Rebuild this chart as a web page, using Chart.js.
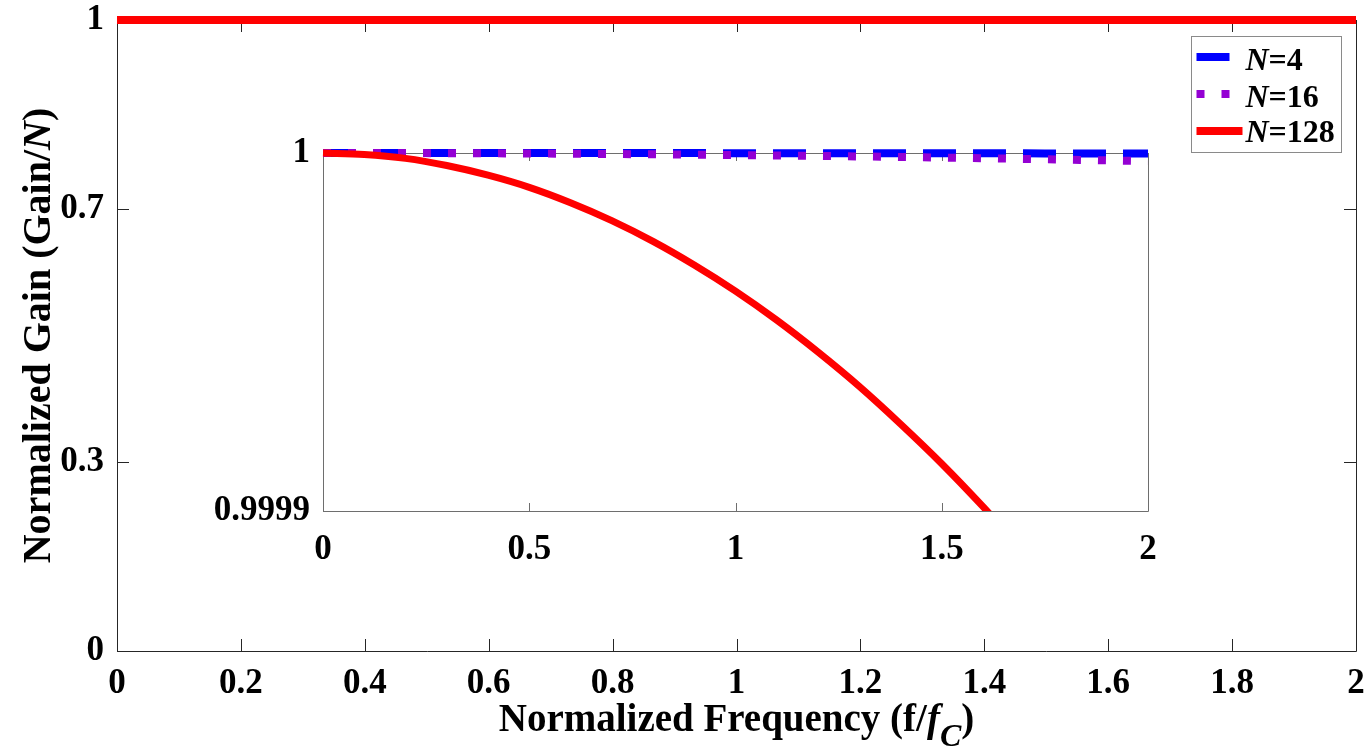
<!DOCTYPE html>
<html><head><meta charset="utf-8">
<script src="https://cdn.jsdelivr.net/npm/chart.js@4.4.1/dist/chart.umd.min.js"></script>
<style>
html,body{margin:0;padding:0;background:#fff;}
#wrap{position:relative;width:1364px;height:752px;overflow:hidden;}
#main{position:absolute;left:0;top:0;}
#inset{position:absolute;left:200px;top:130px;}
</style></head><body>
<div id="wrap"><canvas id="main" width="1364" height="752"></canvas><canvas id="inset" width="970" height="440"></canvas></div>
<script>
// ---------- data ----------
const freq = [0,0.1,0.2,0.3,0.4,0.5,0.6,0.7,0.8,0.9,1.0,1.1,1.2,1.3,1.4,1.5,1.6,1.7,1.8,1.9,2.0];
const gainN4 = [1,1,1,1,0.99999999,0.99999999,0.99999999,0.99999998,0.99999998,0.99999997,0.99999996,0.99999996,0.99999995,0.99999994,0.99999993,0.99999992,0.99999991,0.9999999,0.99999988,0.99999987,0.99999986];
const gainN16 = [1,0.999999994,0.99999998,0.99999995,0.99999991,0.99999986,0.99999979,0.99999972,0.99999964,0.99999954,0.99999943,0.99999931,0.99999918,0.99999904,0.99999888,0.99999872,0.99999854,0.99999835,0.99999815,0.99999794,0.99999772];
const gainN128 = [1,0.9999996,0.9999985,0.9999965,0.9999938,0.9999904,0.9999861,0.9999811,0.9999753,0.9999687,0.9999614,0.9999533,0.9999444,0.9999348,0.9999243,0.9999132,0.9999012,0.9998885,0.999875,0.9998607,0.9998456];
const seriesLabels = ['4','16','128'];
const mainXTicks = [0,0.2,0.4,0.6,0.8,1,1.2,1.4,1.6,1.8,2];
const mainXTickLabels = ['0','0.2','0.4','0.6','0.8','1','1.2','1.4','1.6','1.8','2'];
const mainYTicks = [0,0.3,0.7,1];
const mainYTickLabels = ['0','0.3','0.7','1'];
const insetXTicks = [0,0.5,1,1.5,2];
const insetXTickLabels = ['0','0.5','1','1.5','2'];
const insetYTicks = [0.9999,1];
const insetYTickLabels = ['0.9999','1'];

// ---------- helpers ----------
const FAM = "'Liberation Serif','Times New Roman',serif";
const tickFont = {family: FAM, size: 35, weight: 'bold', lineHeight: 1.2};
function pts(ys){ return freq.map((f,i)=>({x:f, y:ys[i]})); }
function makeDatasets(){
  return [
    {label: seriesLabels[0], data: pts(gainN4), borderColor:'#0000ff', borderWidth:8, borderDash:[33,17], order:2},
    {label: seriesLabels[1], data: pts(gainN16), borderColor:'#9400d3', borderWidth:8, borderDash:[8,17], order:1},
    {label: seriesLabels[2], data: pts(gainN128), borderColor:'#ff0000', borderWidth:7, borderDash:[], order:0}
  ].map(d=>Object.assign(d,{pointRadius:0, fill:false, cubicInterpolationMode:'monotone', borderCapStyle:'butt'}));
}
function fontStr(p, size){ return (p.it?'italic ':'')+'bold '+size+'px '+FAM; }
function drawRich(ctx, parts, x, y, size, subSize, subDy){
  const ws = parts.map(p=>{ctx.font = fontStr(p, p.sub?subSize:size); return ctx.measureText(p.t).width;});
  const total = ws.reduce((a,b)=>a+b,0);
  let cx = x - total/2;
  ctx.textAlign = 'left'; ctx.textBaseline = 'alphabetic';
  parts.forEach((p,i)=>{ ctx.font = fontStr(p, p.sub?subSize:size); ctx.fillText(p.t, cx, y + (p.sub?subDy:0)); cx += ws[i]; });
}

const framePlugin = {
  id: 'frame',
  beforeDraw(chart){
    const {ctx, chartArea:a} = chart;
    ctx.save(); ctx.fillStyle = '#fff'; ctx.fillRect(a.left, a.top, a.width, a.height); ctx.restore();
  },
  beforeDatasetsDraw(chart, args, opts){
    const {ctx, chartArea:a, scales:{x, y}} = chart;
    ctx.save();
    ctx.strokeStyle = opts.color; ctx.lineWidth = 1;
    ctx.beginPath();
    const L = opts.len;
    x.ticks.forEach(t=>{ const px = Math.round(x.getPixelForValue(t.value))+0.5;
      ctx.moveTo(px, a.bottom); ctx.lineTo(px, a.bottom-L); ctx.moveTo(px, a.top); ctx.lineTo(px, a.top+L); });
    y.ticks.forEach(t=>{ const py = Math.round(y.getPixelForValue(t.value))+0.5;
      ctx.moveTo(a.left, py); ctx.lineTo(a.left+L, py); ctx.moveTo(a.right, py); ctx.lineTo(a.right-L, py); });
    ctx.rect(Math.round(a.left)+0.5, Math.round(a.top)+0.5, Math.round(a.width), Math.round(a.height));
    ctx.stroke();
    ctx.restore();
  }
};

const titlePlugin = {
  id: 'richTitles',
  afterDraw(chart){
    const {ctx, chartArea:a} = chart;
    ctx.save(); ctx.fillStyle = '#000';
    drawRich(ctx, [{t:'Normalized Frequency (f/'},{t:'f',it:true},{t:'C',it:true,sub:true},{t:')'}], (a.left+a.right)/2, 731, 39, 32, 15);
    ctx.translate(50, (a.top+a.bottom)/2); ctx.rotate(-Math.PI/2);
    drawRich(ctx, [{t:'Normalized Gain (Gain/'},{t:'N',it:true},{t:')'}], 0, 0, 40, 32, 0);
    ctx.restore();
  }
};

const legendPlugin = {
  id: 'richLegend',
  afterDatasetsDraw(chart){
    const {ctx, chartArea:a} = chart;
    const bx = Math.round(a.right) - 164.5, by = Math.round(a.top) + 16.5, bw = 150, bh = 116;
    ctx.save();
    ctx.fillStyle = '#fff'; ctx.fillRect(bx, by, bw, bh);
    ctx.strokeStyle = '#8a8a8a'; ctx.lineWidth = 1; ctx.strokeRect(bx, by, bw, bh);
    const ds = chart.data.datasets;
    const lineY = [57, 94, 131], textY = [70, 107, 142];
    ds.forEach((d,i)=>{
      ctx.beginPath();
      ctx.strokeStyle = d.borderColor; ctx.lineWidth = d.borderWidth; ctx.lineCap = 'butt';
      ctx.setLineDash(d.borderDash || []);
      ctx.moveTo(bx+5, lineY[i]); ctx.lineTo(bx+51, lineY[i]); ctx.stroke();
      ctx.setLineDash([]);
      ctx.fillStyle = '#000';
      const parts = [{t:'N',it:true},{t:'='+d.label}];
      let cx = bx + 54;
      ctx.textAlign = 'left'; ctx.textBaseline = 'alphabetic';
      parts.forEach(p=>{ ctx.font = fontStr(p, 32); ctx.fillText(p.t, cx, textY[i]); cx += ctx.measureText(p.t).width; });
    });
    ctx.restore();
  }
};

function axisOpts(ticksArr, labelsArr, min, max, pad, fitFn){
  return {
    type:'linear', min, max,
    afterBuildTicks: s => { s.ticks = ticksArr.map(v=>({value:v})); },
    ticks:{ font: tickFont, color:'#000', padding: pad, maxRotation:0, autoSkip:false,
      callback: (v) => { const k = ticksArr.findIndex(t=>Math.abs(t-v)<1e-12); return k>=0 ? labelsArr[k] : ''; } },
    grid:{ display:false, drawTicks:false },
    border:{ display:false },
    afterFit: s => { fitFn(s); s.paddingTop = 0; s.paddingBottom = 0; s.paddingLeft = 0; s.paddingRight = 0; }
  };
}

Chart.defaults.font.family = FAM;

new Chart(document.getElementById('main'), {
  type:'line',
  data:{ datasets: makeDatasets().map(d=>Object.assign(d,{clip:false, borderWidth: d.order===0?8:d.borderWidth})) },
  options:{
    responsive:false, animation:false, devicePixelRatio:1,
    layout:{ padding:{ top:20, right:8, left:0, bottom:0 } },
    plugins:{ legend:{display:false}, tooltip:{enabled:false}, frame:{color:'#262626', len:12} },
    scales:{
      x: axisOpts(mainXTicks, mainXTickLabels, 0, 2, 12, s=>{ s.height = 101; }),
      y: axisOpts(mainYTicks, mainYTickLabels, 0, 1, 13, s=>{ s.width = 117; })
    }
  },
  plugins:[framePlugin, legendPlugin, titlePlugin]
});

new Chart(document.getElementById('inset'), {
  type:'line',
  data:{ datasets: makeDatasets().map(d=>Object.assign(d,{clip:{left:4, top:10, right:4, bottom:0}})) },
  options:{
    responsive:false, animation:false, devicePixelRatio:1,
    layout:{ padding:{ top:23, right:22, left:0, bottom:0 } },
    plugins:{ legend:{display:false}, tooltip:{enabled:false}, frame:{color:'#6e6e6e', len:8} },
    scales:{
      x: axisOpts(insetXTicks, insetXTickLabels, 0, 2, 18, s=>{ s.height = 59; }),
      y: axisOpts(insetYTicks, insetYTickLabels, 0.9999, 1, 13, s=>{ s.width = 123; })
    }
  },
  plugins:[framePlugin]
});
</script>
</body></html>
